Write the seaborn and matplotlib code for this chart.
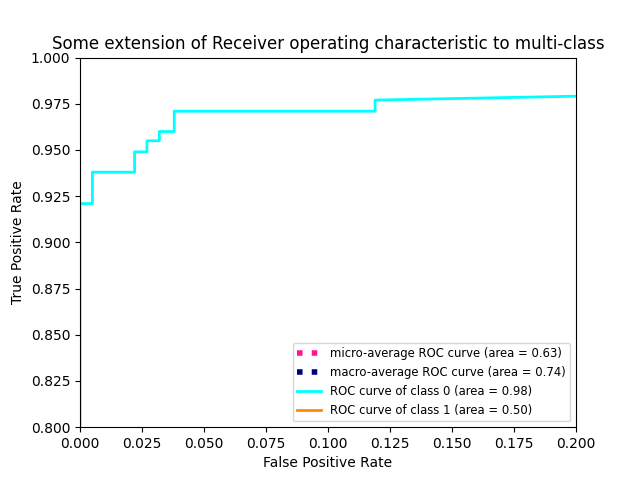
import matplotlib
matplotlib.use("Agg")
import matplotlib.pyplot as plt
import seaborn as sns
import pandas as pd

micro_fpr = [0.0, 0.25, 0.5, 1.0]
micro_tpr = [0.0, 0.45, 0.75, 1.0]
macro_fpr = [0.0, 0.25, 0.5, 1.0]
macro_tpr = [0.0, 0.55, 0.85, 1.0]
c0_fpr = [0.0, 0.0, 0.005, 0.005, 0.022, 0.022, 0.027, 0.027, 0.032, 0.032, 0.038, 0.038, 0.119, 0.119, 1.0]
c0_tpr = [0.0, 0.921, 0.921, 0.938, 0.938, 0.949, 0.949, 0.955, 0.955, 0.960, 0.960, 0.971, 0.971, 0.977, 1.0]
c1_fpr = [0.0, 1.0]
c1_tpr = [0.0, 1.0]

fig, ax = plt.subplots(figsize=(6.4, 4.8), dpi=100)
def draw(x, y, label, color, ls, lw):
    df = pd.DataFrame({"x": x, "y": y})
    sns.lineplot(data=df, x="x", y="y", sort=False, estimator=None, ax=ax,
                 label=label, color=color, linestyle=ls, linewidth=lw)

draw(micro_fpr, micro_tpr, "micro-average ROC curve (area = 0.63)", "deeppink", ":", 4)
draw(macro_fpr, macro_tpr, "macro-average ROC curve (area = 0.74)", "navy", ":", 4)
draw(c0_fpr, c0_tpr, "ROC curve of class 0 (area = 0.98)", "aqua", "-", 2)
draw(c1_fpr, c1_tpr, "ROC curve of class 1 (area = 0.50)", "darkorange", "-", 2)

ax.set_xlim(0.0, 0.2)
ax.set_ylim(0.8, 1.0)
ax.set_xlabel("False Positive Rate")
ax.set_ylabel("True Positive Rate")
ax.set_title("Some extension of Receiver operating characteristic to multi-class")
ax.legend(loc="lower right", fontsize="small")
fig.savefig("out.png")
